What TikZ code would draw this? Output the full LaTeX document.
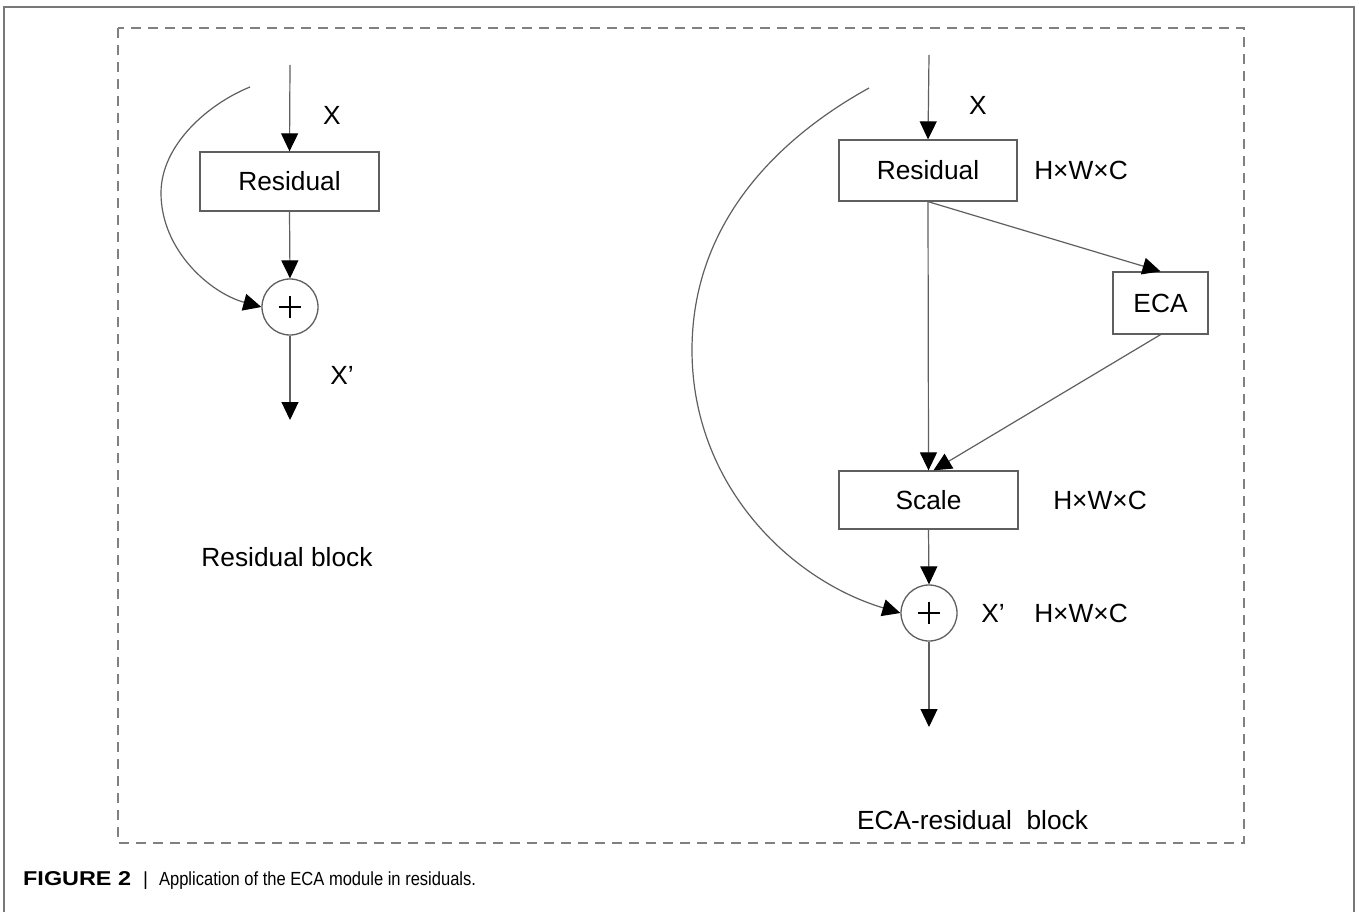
\documentclass[tikz,border=0pt]{standalone}
\usepackage{fontspec}
\setmainfont{Liberation Sans}
\newfontfamily\narrowfont[FakeStretch=0.87]{Liberation Sans}
\newfontfamily\widebold[FakeStretch=1.17]{Liberation Sans Bold}
\usetikzlibrary{arrows.meta}
\definecolor{linegray}{RGB}{95,95,95}
\definecolor{dashgray}{RGB}{128,128,128}
\definecolor{framegray}{RGB}{120,120,120}
\begin{document}
\begin{tikzpicture}[x=1pt,y=-1pt,
  lbl/.style={font=\fontsize{26.3}{31}\selectfont, text=black, inner sep=0pt},
  block/.style={draw=linegray, line width=1.3pt, fill=white, lbl},
  sumnode/.style={draw=linegray, line width=1.3pt, circle, minimum size=56pt, inner sep=0pt,
    path picture={\draw[black, line width=1.5pt]
      ([xshift=-11pt]path picture bounding box.center) -- ([xshift=11pt]path picture bounding box.center)
      ([yshift=-11pt]path picture bounding box.center) -- ([yshift=11pt]path picture bounding box.center);}},
  flow/.style={draw=linegray, line width=1.2pt, -{Triangle[length=18pt,width=17pt,fill=black,color=black]}},
  link/.style={draw=linegray, line width=1.2pt}
]
\useasboundingbox (0,0) rectangle (1359,912);
\fill[white] (0,0) rectangle (1359,912);

% outer frame and dashed region
\draw[framegray, line width=1.5pt] (4,912) -- (4,7) -- (1354,7) -- (1354,912);
\draw[dashgray, line width=1.8pt, dash pattern=on 10pt off 7pt] (118,28) rectangle (1244,843);

% ---------- plain residual block ----------
\coordinate (lin) at (290,65);
\coordinate (lout) at (290,420);
\coordinate (lstart) at (250,87);
\coordinate (lleft) at (161,193);
\node[block, minimum width=179pt, minimum height=59pt] (lres) at (289.5,181.5) {Residual};
\node[sumnode] (lsum) at (290,307) {};
\node[lbl] (lx) at (332,115) {X};
\node[lbl] (lxp) at (342,375) {X’};
\node[lbl] (lcap) at (287,557) {Residual block};

\draw[flow] (lin) -- (lres.north);
\draw[flow] (lres.south) -- (lsum.north);
\draw[flow] (lsum.south) -- (lout);
\draw[link] (lstart) .. controls (208,104) and (161,145) .. (lleft);
\draw[flow] (lleft) .. controls (161,250) and (210,293) .. (lsum.west);

% ---------- ECA residual block ----------
\coordinate (rin) at (929,55);
\coordinate (rout) at (929,727);
\coordinate (rstart) at (869,88);
\coordinate (rleft) at (692,350);
\node[block, minimum width=178pt, minimum height=61pt] (rres) at (928,170.5) {Residual};
\node[block, minimum width=95pt, minimum height=62pt] (eca) at (1160.5,303) {ECA};
\node[block, minimum width=179pt, minimum height=58pt] (scale) at (928.5,500) {Scale};
\node[sumnode] (rsum) at (929,613) {};
\node[lbl] (rx) at (978,105) {X};
\node[lbl] (rdim1) at (1081,170) {H×W×C};
\node[lbl] (rdim2) at (1100,500) {H×W×C};
\node[lbl] (rxp) at (993,613) {X’};
\node[lbl] (rdim3) at (1081,613) {H×W×C};
\node[lbl] (rcap) at (972.5,820) {ECA-residual~~block};

\draw[flow] (rin) -- (rres.north);
\draw[flow] (rres.south) -- (eca.north);
\draw[flow] (rres.south) -- (scale.north);
\draw[flow] (eca.south) -- ([xshift=5pt]scale.north);
\draw[flow] (scale.south) -- (rsum.north);
\draw[flow] (rsum.south) -- (rout);
\draw[link] (rstart) .. controls (775,140) and (692,225) .. (rleft);
\draw[flow] (rleft) .. controls (692,485) and (790,580) .. (rsum.west);

% caption
\node[anchor=west, inner sep=0pt, font=\fontsize{19}{22}\selectfont] (caption) at (23,881)
  {{\widebold\fontsize{20}{22}\selectfont FIGURE 2}\hspace{12pt}|\hspace{11pt}{\narrowfont Application of the ECA module in residuals.}};
\end{tikzpicture}
\end{document}
